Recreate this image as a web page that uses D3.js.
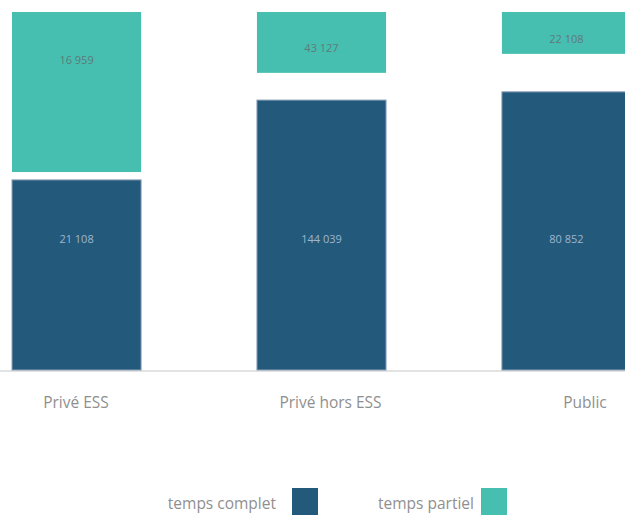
<!DOCTYPE html>
<html>
<head>
<meta charset="utf-8">
<script src="https://cdn.jsdelivr.net/npm/d3@7"></script>
<style>
  body { margin: 0; background: #fff; }
  text { font-family: "Open Sans", sans-serif; }
</style>
</head>
<body>
<div id="graph"></div>
<script>
// données
const categories = ["Privé ESS", "Privé hors ESS", "Public"];
const complet = [21108, 144039, 80852];   // effectifs temps complet
const partiel = [16959, 43127, 22108];    // effectifs temps partiel
// part de la hauteur de barre (en %)
const partComplet = [53.1, 75.4, 77.7];
const partPartiel = [44.7, 17.0, 11.7];
const legendLabels = ["temps complet", "temps partiel"];

const width = 625;
const height = 515;
const colors = ["#235a7b", "#46bfb1"];

const svg = d3.select("#graph")
      .append("svg")
      .attr("width", width)
      .attr("height", height);

const xScale = d3.scaleBand()
      .domain(categories)
      .range([12, 631])
      .paddingInner(0.473)
      .paddingOuter(0);

// les libellés des catégories ne sont pas tout à fait centrés sur les barres
const labelScale = d3.scalePoint()
      .domain(categories)
      .range([76, 585]);

const yScale = d3.scaleLinear()
      .domain([0, 100])
      .range([370, 12]);

const fmt = v => d3.format(",")(v).replace(/,/g, " ");

const rows = categories.map((c, i) => ({
      cat: c, complet: complet[i], partiel: partiel[i],
      pc: partComplet[i], pp: partPartiel[i]
}));

// ligne de base
svg.append("line")
      .attr("x1", 0).attr("x2", width)
      .attr("y1", yScale(0) + 1).attr("y2", yScale(0) + 1)
      .attr("stroke", "#e3e3e3")
      .attr("stroke-width", 2);

// barres temps complet
svg.selectAll("rect.complet")
      .data(rows)
      .join("rect")
      .attr("class", "complet")
      .attr("x", d => xScale(d.cat))
      .attr("y", d => yScale(d.pc))
      .attr("width", xScale.bandwidth())
      .attr("height", d => yScale(0) - yScale(d.pc))
      .attr("fill", colors[0])
      .attr("stroke", "#8c9fba")
      .attr("stroke-width", 1);

// barres temps partiel (en haut)
svg.selectAll("rect.partiel")
      .data(rows)
      .join("rect")
      .attr("class", "partiel")
      .attr("x", d => xScale(d.cat))
      .attr("y", yScale(100))
      .attr("width", xScale.bandwidth())
      .attr("height", d => yScale(100 - d.pp) - yScale(100))
      .attr("fill", colors[1]);

// valeurs
svg.selectAll("text.vcomplet")
      .data(rows)
      .join("text")
      .attr("class", "vcomplet")
      .attr("x", d => xScale(d.cat) + xScale.bandwidth() / 2)
      .attr("y", 243)
      .attr("text-anchor", "middle")
      .attr("font-size", "11px")
      .attr("fill", "#9fb5cf")
      .text(d => fmt(d.complet));

svg.selectAll("text.vpartiel")
      .data(rows)
      .join("text")
      .attr("class", "vpartiel")
      .attr("x", d => xScale(d.cat) + xScale.bandwidth() / 2)
      .attr("y", d => {
            const top = yScale(100);
            const bottom = yScale(100 - d.pp);
            return Math.min(top + 52, (top + bottom) / 2 + 10);
      })
      .attr("text-anchor", "middle")
      .attr("font-size", "11px")
      .attr("fill", "#5f7a7a")
      .text(d => fmt(d.partiel));

// libellés des catégories
svg.selectAll("text.cat")
      .data(categories)
      .join("text")
      .attr("class", "cat")
      .attr("x", d => labelScale(d))
      .attr("y", 408)
      .attr("text-anchor", "middle")
      .attr("font-size", "15.5px")
      .attr("fill", "#8f8f8f")
      .text(d => d);

// légende
const legend = svg.selectAll("g.legend")
      .data(legendLabels)
      .join("g")
      .attr("class", "legend")
      .attr("transform", (d, i) => `translate(${[292, 481][i]}, 488)`);

legend.append("rect")
      .attr("width", 26)
      .attr("height", 30)
      .attr("fill", (d, i) => colors[i]);

legend.append("text")
      .attr("x", (d, i) => [-16, -7][i])
      .attr("y", 21)
      .attr("text-anchor", "end")
      .attr("font-size", "15.5px")
      .attr("fill", "#8f8f8f")
      .text(d => d);
</script>
</body>
</html>
